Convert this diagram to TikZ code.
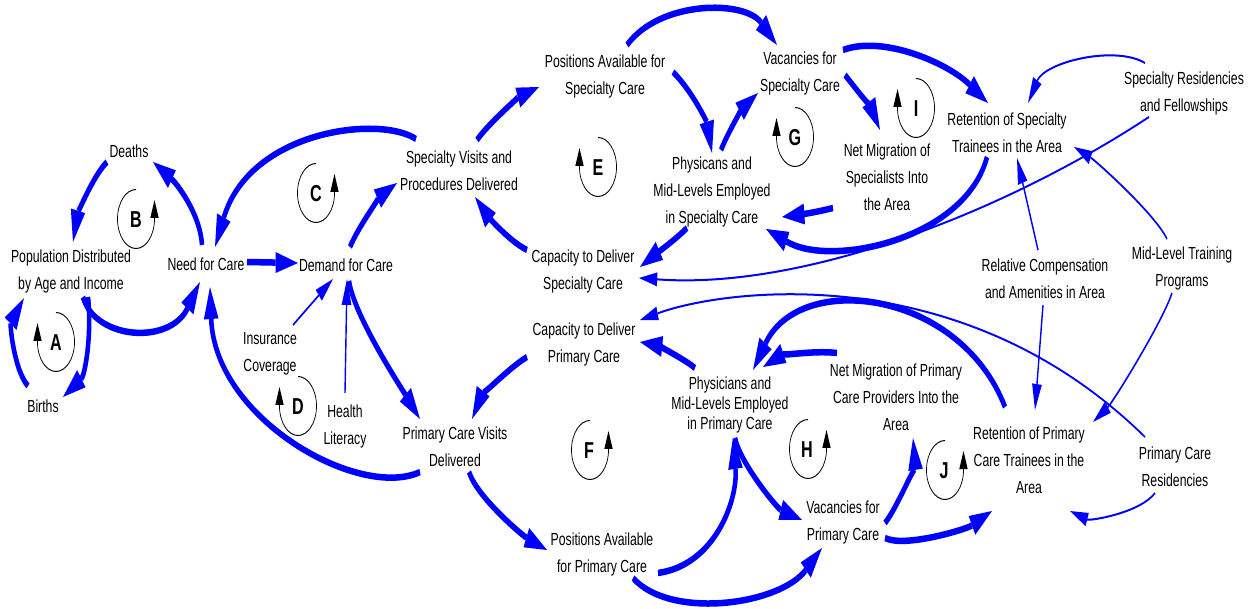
\documentclass[tikz,border=0pt]{standalone}
\usepackage{fontspec}
\setmainfont{Liberation Sans}
\usetikzlibrary{arrows.meta}
\definecolor{linkblue}{RGB}{0,0,255}

\tikzset{
  lbl/.style={align=center, inner sep=1pt, text=black},
  strong/.style={draw=linkblue, line width=6.5pt,
    -{Triangle[length=32pt,width=21pt,line width=0pt]}},
  weak/.style={draw=linkblue, line width=2pt,
    -{Triangle[length=26pt,width=14pt,line width=0pt]}},
  loopline/.style={draw=black, line width=1pt,
    -{Triangle[length=18pt,width=12pt,line width=0pt]}},
  looptag/.style={font=\fontsize{23}{23}\selectfont\bfseries, inner sep=0pt, text=black},
  % loop marker turning clockwise, arrow on the left side
  cwloop/.pic={\draw[loopline] (0,-29.5)
      arc[start angle=-90,end angle=180,x radius=18.5,y radius=29.5] -- ++(0,-19);},
  % loop marker turning counter-clockwise, arrow on the right side
  ccwloop/.pic={\draw[loopline] (0,-29.5)
      arc[start angle=-90,end angle=-360,x radius=18.5,y radius=29.5] -- ++(0,-19);},
}

\begin{document}
\begin{tikzpicture}[x=1pt,y=-1pt]
\fill[white] (0,0) rectangle (1256,609);
\begin{scope}[overlay, transform canvas={xscale=0.7}, x=1.428571pt, y=-1pt,
              font=\fontsize{17.5}{27}\selectfont]

% ---------- variables ----------
\node[lbl] (deaths) at (129,151) {Deaths};
\node[lbl] (pop)    at (71,271.5) {Population Distributed\\by Age and Income};
\node[lbl] (births) at (43,406) {Births};
\node[lbl] (need)   at (206,264) {Need for Care};
\node[lbl] (demand) at (346,265) {Demand for Care};
\node[lbl] (ins)    at (270,353.5) {Insurance\\Coverage};
\node[lbl] (health) at (345,426) {Health\\Literacy};
\node[lbl] (sv)     at (459,170.5) {Specialty Visits and\\Procedures Delivered};
\node[lbl] (posS)   at (605,76.5) {Positions Available for\\Specialty Care};
\node[lbl] (vacS)   at (800,73) {Vacancies for\\Specialty Care};
\node[lbl] (physS)  at (712,192) {Physicans and\\Mid-Levels Employed\\in Specialty Care};
\node[lbl] (netS)   at (887,177.5) {Net Migration of\\Specialists Into\\the Area};
\node[lbl] (retS)   at (1007,132.5) {Retention of Specialty\\Trainees in the Area};
\node[lbl] (resS)   at (1184,93.5) {Specialty Residencies\\and Fellowships};
\node[lbl] (capS)   at (583,271) {Capacity to Deliver\\Specialty Care};
\node[lbl] (relc)   at (1045,279) {Relative Compensation\\and Amenities in Area};
\node[lbl] (mlt)    at (1182,268) {Mid-Level Training\\Programs};
\node[lbl] (capP)   at (584,344) {Capacity to Deliver\\Primary Care};
\node[lbl, font=\fontsize{17.5}{20}\selectfont] (physP) at (730,404.5)
      {Physicians and\\Mid-Levels Employed\\in Primary Care};
\node[lbl] (netP)   at (896,397.5) {Net Migration of Primary\\Care Providers Into the\\Area};
\node[lbl] (pcv)    at (455,447) {Primary Care Visits\\Delivered};
\node[lbl] (posP)   at (602,554) {Positions Available\\for Primary Care};
\node[lbl] (vacP)   at (843,522) {Vacancies for\\Primary Care};
\node[lbl] (retP)   at (1029,460.5) {Retention of Primary\\Care Trainees in the\\Area};
\node[lbl] (resP)   at (1175,466.5) {Primary Care\\Residencies};

% ---------- loop markers ----------
\pic at (56,342)  {cwloop};  \node[looptag] (tagA) at (56,343)  {A};
\pic at (136,219) {ccwloop}; \node[looptag] (tagB) at (136,220) {B};
\pic at (316,193) {ccwloop}; \node[looptag] (tagC) at (316,194) {C};
\pic at (298,406) {cwloop};  \node[looptag] (tagD) at (298,407) {D};
\pic at (598,167) {cwloop};  \node[looptag] (tagE) at (598,168) {E};
\pic at (590,450) {ccwloop}; \node[looptag] (tagF) at (589,451) {F};
\pic at (795,137) {cwloop};  \node[looptag] (tagG) at (795,138) {G};
\pic at (808,449) {ccwloop}; \node[looptag] (tagH) at (807,450) {H};
\pic at (916,108) {cwloop};  \node[looptag] (tagI) at (916,109) {I};
\pic at (945,470) {ccwloop}; \node[looptag] (tagJ) at (944,471) {J};

% ---------- population and demand ----------
\draw[strong] ([shift={(-4,-19)}]need.center) .. controls +(-2,-33) and +(22,20) .. ([shift={(24,11)}]deaths.center);
\draw[strong] ([shift={(-22,11)}]deaths.center) .. controls +(-15,15) and +(4,-25) .. ([shift={(2,-29.5)}]pop.center);
\draw[strong] ([shift={(17,25.5)}]pop.center) .. controls +(4,38) and +(22,-22) .. ([shift={(20,-9)}]births.center);
\draw[strong] ([shift={(-15,-20)}]births.center) .. controls +(-14,-16) and +(-14,27) .. ([shift={(-47,26.5)}]pop.center);
\draw[strong] ([shift={(12,25.5)}]pop.center) .. controls +(12,43) and +(-30,63) .. ([shift={(-6,18)}]need.center);
\draw[strong] ([shift={(41,-2)}]need.center) -- ([shift={(-48,-2)}]demand.center);
\draw[strong] ([shift={(4,-18)}]demand.center) .. controls +(8,-20) and +(-15,12) .. ([shift={(-62,12.5)}]sv.center);
\draw[strong] ([shift={(3,16)}]demand.center) .. controls +(5,35) and +(-18,-30) .. ([shift={(-35,-28)}]pcv.center);
\draw[weak] ([shift={(23,-28.5)}]ins.center) -- ([shift={(-13,14)}]demand.center);
\draw[weak] ([shift={(0,-33)}]health.center) -- ([shift={(1,14)}]demand.center);
\draw[strong] ([shift={(-43,-31.5)}]sv.center) .. controls +(-36,-24) and +(35,-117) .. ([shift={(9,-17)}]need.center);
\draw[strong] ([shift={(-35,25)}]pcv.center) .. controls +(-60,28) and +(5,133) .. ([shift={(4,23)}]need.center);

% ---------- specialty care ----------
\draw[strong] ([shift={(18,-30.5)}]sv.center) .. controls +(10,-15) and +(-20,10) .. ([shift={(-66,10.5)}]posS.center);
\draw[strong] ([shift={(22,-31.5)}]posS.center) .. controls +(33,-45) and +(-32,-45) .. ([shift={(-23,-28)}]vacS.center);
\draw[strong] ([shift={(68,-4.5)}]posS.center) .. controls +(20,20) and +(-5,-30) .. ([shift={(0,-39)}]physS.center);
\draw[strong] ([shift={(9,-42)}]physS.center) .. controls +(8,-20) and +(-15,15) .. ([shift={(-42,20)}]vacS.center);
\draw[strong] ([shift={(45,2)}]vacS.center) .. controls +(12,15) and +(-8,-20) .. ([shift={(-7,-47.5)}]netS.center);
\draw[strong] ([shift={(43,-23)}]vacS.center) .. controls +(40,-15) and +(-40,-40) .. ([shift={(-19,-29.5)}]retS.center);
\draw[strong] ([shift={(-54,30.5)}]netS.center) .. controls +(-20,5) and +(15,-2) .. ([shift={(70,25)}]physS.center);
\draw[strong] ([shift={(-20,24.5)}]retS.center) .. controls +(-22,83) and +(64,39) .. ([shift={(54,37)}]physS.center);
\draw[strong] ([shift={(-25,36)}]physS.center) .. controls +(-12,12) and +(12,-10) .. ([shift={(57,-4)}]capS.center);
\draw[strong] ([shift={(-56,-21)}]capS.center) .. controls +(-20,-10) and +(10,15) .. ([shift={(16,26.5)}]sv.center);
\draw[weak] ([shift={(-39,-30.5)}]resS.center) .. controls +(-30,-18) and +(17,-41) .. ([shift={(21,-29.5)}]retS.center);
\draw[weak] ([shift={(-35,23.5)}]resS.center) .. controls +(-149,98) and +(161,12) .. ([shift={(56,7)}]capS.center);
\draw[weak] ([shift={(-7,-29)}]relc.center) -- ([shift={(10,25.5)}]retS.center);
\draw[weak] ([shift={(-15,-29)}]mlt.center) .. controls +(-12,-25) and +(22,14) .. ([shift={(67,14.5)}]retS.center);

% ---------- primary care ----------
\draw[weak] ([shift={(-30,-29.5)}]resP.center) .. controls +(-185,-182) and +(80,-30) .. ([shift={(56,-24)}]capP.center);
\draw[weak] ([shift={(-20,26.5)}]resP.center) .. controls +(-15,20) and +(20,10) .. ([shift={(41,50.5)}]retP.center);
\draw[weak] ([shift={(-2,26)}]relc.center) -- ([shift={(6,-50.5)}]retP.center);
\draw[weak] ([shift={(-10,25)}]mlt.center) .. controls +(-10,30) and +(20,-20) .. ([shift={(64,-38.5)}]retP.center);
\draw[strong] ([shift={(-57,13)}]capP.center) .. controls +(-20,12) and +(8,-20) .. ([shift={(17,-28)}]pcv.center);
\draw[strong] ([shift={(-35,-36.5)}]physP.center) .. controls +(-15,-12) and +(15,3) .. ([shift={(56,-2)}]capP.center);
\draw[strong] ([shift={(14,25)}]pcv.center) .. controls +(8,25) and +(-25,-15) .. ([shift={(-55,-4)}]posP.center);
\draw[strong] ([shift={(56,19)}]posP.center) .. controls +(57,-8) and +(5,63) .. ([shift={(3,32.5)}]physP.center);
\draw[strong] ([shift={(31,24)}]posP.center) .. controls +(37,42) and +(-42,57) .. ([shift={(-21,26)}]vacP.center);
\draw[strong] ([shift={(5,33.5)}]physP.center) .. controls +(5,25) and +(-25,-12) .. ([shift={(-41,-2)}]vacP.center);
\draw[strong] ([shift={(42,1)}]vacP.center) .. controls +(12,-15) and +(2,25) .. ([shift={(17,40.5)}]netP.center);
\draw[strong] ([shift={(42,16)}]vacP.center) .. controls +(20,10) and +(-25,18) .. ([shift={(-37,50.5)}]retP.center);
\draw[strong] ([shift={(-59,-44.5)}]netP.center) .. controls +(-25,-3) and +(15,-10) .. ([shift={(33,-37.5)}]physP.center);
\draw[strong] ([shift={(-24,-53.5)}]retP.center) .. controls +(-45,-117) and +(47,-100) .. ([shift={(23,-34.5)}]physP.center);

\end{scope}
\end{tikzpicture}
\end{document}
